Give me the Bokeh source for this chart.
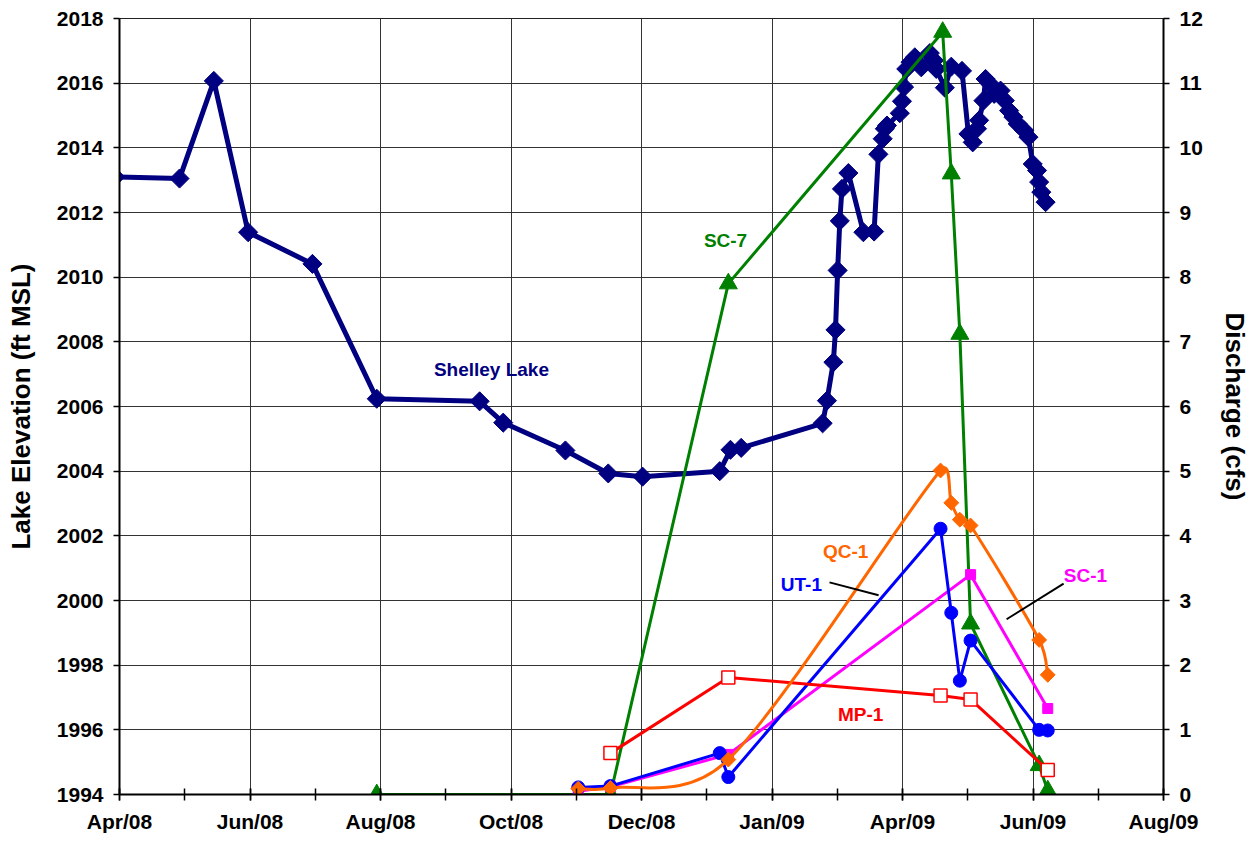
import math
import pandas as pd
from bokeh.plotting import figure
from bokeh.models import Range1d, LinearAxis, FixedTicker, Label, Grid
from bokeh.embed import file_html
from bokeh.resources import INLINE

# ---------------- data ----------------
lake_dates = ["2008-03-24", "2008-03-30", "2008-04-29", "2008-05-15", "2008-05-31", "2008-06-30",
              "2008-07-30", "2008-09-16", "2008-09-27", "2008-10-26", "2008-11-15", "2008-12-01",
              "2009-01-06", "2009-01-11", "2009-01-16", "2009-02-23", "2009-02-25", "2009-02-28",
              "2009-03-01", "2009-03-02", "2009-03-03", "2009-03-04", "2009-03-07", "2009-03-14",
              "2009-03-19", "2009-03-21", "2009-03-23", "2009-03-24", "2009-03-25", "2009-03-31",
              "2009-04-01", "2009-04-02", "2009-04-03", "2009-04-05", "2009-04-07", "2009-04-10",
              "2009-04-14", "2009-04-16", "2009-04-17", "2009-04-21", "2009-04-24", "2009-04-29",
              "2009-05-02", "2009-05-04", "2009-05-06", "2009-05-07", "2009-05-09", "2009-05-10",
              "2009-05-12", "2009-05-14", "2009-05-17", "2009-05-19", "2009-05-21", "2009-05-23",
              "2009-05-25", "2009-05-28", "2009-05-30", "2009-06-01", "2009-06-03", "2009-06-04",
              "2009-06-05", "2009-06-07"]
lake_elev = [2011.3, 2013.10, 2013.05, 2016.07, 2011.39, 2010.41,
             2006.24, 2006.16, 2005.50, 2004.64, 2003.93, 2003.83,
             2004.00, 2004.66, 2004.72, 2005.48, 2006.18, 2007.37,
             2008.37, 2010.21, 2011.74, 2012.73, 2013.22, 2011.39,
             2011.41, 2013.80, 2014.28, 2014.59, 2014.69, 2015.07,
             2015.44, 2015.88, 2016.44, 2016.65, 2016.80, 2016.49,
             2016.93, 2016.70, 2016.44, 2015.86, 2016.51, 2016.38,
             2014.43, 2014.17, 2014.59, 2014.85, 2015.46, 2016.13,
             2015.98, 2015.67, 2015.77, 2015.46, 2015.15, 2014.95,
             2014.74, 2014.54, 2014.33, 2013.50, 2013.30, 2012.94,
             2012.63, 2012.32]

sc7_dates = ["2008-07-30", "2008-11-01", "2008-11-16", "2009-01-10", "2009-04-20",
             "2009-04-24", "2009-04-28", "2009-05-03", "2009-06-04", "2009-06-08"]
sc7_cfs = [0.0, 0.0, 0.0, 7.90, 11.79, 9.60, 7.12, 2.64, 0.45, 0.06]

qc1_dates = ["2008-11-01", "2008-11-16", "2009-01-10", "2009-04-19", "2009-04-24",
             "2009-04-28", "2009-05-03", "2009-06-04", "2009-06-08"]
qc1_cfs = [0.09, 0.10, 0.54, 5.01, 4.51, 4.25, 4.16, 2.39, 1.85]

ut1_dates = ["2008-11-01", "2008-11-16", "2009-01-06", "2009-01-10", "2009-04-19",
             "2009-04-24", "2009-04-28", "2009-05-03", "2009-06-04", "2009-06-08"]
ut1_cfs = [0.11, 0.13, 0.64, 0.27, 4.11, 2.81, 1.76, 2.38, 1.00, 0.99]

sc1_dates = ["2008-11-01", "2008-11-16", "2009-01-10", "2009-05-03", "2009-06-08"]
sc1_cfs = [0.05, 0.12, 0.62, 3.40, 1.33]

mp1_dates = ["2008-11-16", "2009-01-10", "2009-04-19", "2009-05-03", "2009-06-08"]
mp1_cfs = [0.64, 1.81, 1.53, 1.47, 0.38]

x_tick_labels = ["Apr/08", "Jun/08", "Aug/08", "Oct/08", "Dec/08", "Jan/09", "Apr/09", "Jun/09", "Aug/09"]
x_start, x_end = "2008-04-01", "2009-08-01"
elev_ticks = list(range(1994, 2019, 2))
cfs_ticks = list(range(0, 13))

FONT = "Liberation Sans"
NAVY, GREEN, ORANGE, BLUE, MAGENTA, RED = "#000080", "#008000", "#FF6600", "#0000FF", "#FF00FF", "#FF0000"
FW, FH = 1044, 776


def to_ms(dates):
    return [int(v) // 10**6 for v in pd.to_datetime(dates).as_unit("ns").asi8]


def ms1(d):
    return int(pd.Timestamp(d).value) // 10**6


t0, t1 = ms1(x_start), ms1(x_end)
n_int = len(x_tick_labels) - 1
step = (t1 - t0) // n_int
major = [t0 + k * step for k in range(n_int + 1)]
minor = [t0 + k * step // 2 for k in range(2 * n_int + 1)]

p = figure(frame_width=FW, frame_height=FH, output_backend="svg", toolbar_location=None,
           x_axis_type=None, y_axis_type=None,
           x_range=Range1d(t0, t1), y_range=Range1d(1994, 2018),
           min_border_left=119, min_border_right=88, min_border_top=18, min_border_bottom=46)
p.extra_y_ranges = {"q": Range1d(0, 12)}
p.background_fill_color = "white"
p.border_fill_color = "white"
p.outline_line_color = "#222222"
p.outline_line_width = 1

xticker = FixedTicker(ticks=major, minor_ticks=minor)
xaxis = LinearAxis(ticker=xticker, major_label_overrides={t: l for t, l in zip(major, x_tick_labels)})
yaxis = LinearAxis(ticker=FixedTicker(ticks=elev_ticks), axis_label="Lake Elevation (ft MSL)")
raxis = LinearAxis(y_range_name="q", ticker=FixedTicker(ticks=cfs_ticks), axis_label="Discharge (cfs)")

for ax in (xaxis, yaxis, raxis):
    ax.axis_line_color = "black"
    ax.axis_line_width = 2
    ax.major_tick_line_color = "black"
    ax.major_tick_line_width = 1.5
    ax.minor_tick_line_color = "black"
    ax.minor_tick_line_width = 1.5
    ax.major_label_text_font = FONT
    ax.major_label_text_font_style = "bold"
    ax.major_label_text_font_size = "21px"
    ax.major_label_text_color = "black"
    ax.axis_label_text_font = FONT
    ax.axis_label_text_font_style = "bold"
    ax.axis_label_text_font_size = "26px"
    ax.axis_label_text_color = "black"
    ax.major_tick_in = 0
    ax.major_tick_out = 6
    ax.minor_tick_in = 0
    ax.minor_tick_out = 0

xaxis.major_tick_in = 6
xaxis.minor_tick_in = 6
xaxis.minor_tick_out = 6
xaxis.major_label_standoff = 9
yaxis.major_label_standoff = 10
yaxis.axis_label_standoff = 18
raxis.major_label_standoff = 10
raxis.axis_label_standoff = 14

p.add_layout(xaxis, "below")
p.add_layout(yaxis, "left")
p.add_layout(raxis, "right")

p.add_layout(Grid(dimension=0, ticker=xticker, grid_line_color="#333333", grid_line_width=1))
p.add_layout(Grid(dimension=1, ticker=FixedTicker(ticks=elev_ticks), grid_line_color="#333333", grid_line_width=1))

# Shelley Lake
lx = to_ms(lake_dates)
p.line(lx, lake_elev, line_color=NAVY, line_width=5, line_join="round")
p.scatter(lx, lake_elev, marker="square", angle=math.pi / 4, size=13.5, fill_color=NAVY, line_color=NAVY)

# SC-7
gx = to_ms(sc7_dates)
p.line(gx, sc7_cfs, y_range_name="q", line_color=GREEN, line_width=3)
p.scatter(gx, sc7_cfs, y_range_name="q", marker="triangle", size=18, fill_color=GREEN, line_color=GREEN)

# SC-1
mx = to_ms(sc1_dates)
p.line(mx, sc1_cfs, y_range_name="q", line_color=MAGENTA, line_width=3)
p.scatter(mx, sc1_cfs, y_range_name="q", marker="square", size=10, fill_color=MAGENTA, line_color=MAGENTA)

# UT-1
bx = to_ms(ut1_dates)
p.line(bx, ut1_cfs, y_range_name="q", line_color=BLUE, line_width=3)
p.scatter(bx, ut1_cfs, y_range_name="q", marker="circle", size=13, fill_color=BLUE, line_color=BLUE)

# MP-1
rx = to_ms(mp1_dates)
p.line(rx, mp1_cfs, y_range_name="q", line_color=RED, line_width=3)
p.scatter(rx, mp1_cfs, y_range_name="q", marker="square", size=13, fill_color="white", line_color=RED, line_width=1.5)

# QC-1: smoothed line (spreadsheet-style bezier; Catmull-Rom tangents capped by segment length)
ox = to_ms(qc1_dates)
kx = FW / (t1 - t0)          # screen px per ms
ky = FH / 12.0               # screen px per cfs
n = len(ox)
seg = {k: [] for k in ("x0", "y0", "x1", "y1", "cx0", "cy0", "cx1", "cy1")}


def vec(i_from, i_to):
    return (ox[i_to] - ox[i_from]) * kx, (qc1_cfs[i_to] - qc1_cfs[i_from]) * ky


def ctrl(i_from, i_to, cur_len):
    vx, vy = vec(i_from, i_to)
    L = math.hypot(vx, vy) or 1.0
    dist = min(L / 6.0, 0.5 * cur_len)
    return vx / L * dist, vy / L * dist


for i in range(n - 1):
    a = max(i - 1, 0)
    d = min(i + 2, n - 1)
    sx, sy = vec(i, i + 1)
    cur = math.hypot(sx, sy)
    c1 = ctrl(a, i + 1, cur)
    c2 = ctrl(i, d, cur)
    seg["x0"].append(ox[i]); seg["y0"].append(qc1_cfs[i])
    seg["x1"].append(ox[i + 1]); seg["y1"].append(qc1_cfs[i + 1])
    seg["cx0"].append(ox[i] + c1[0] / kx)
    seg["cy0"].append(qc1_cfs[i] + c1[1] / ky)
    seg["cx1"].append(ox[i + 1] - c2[0] / kx)
    seg["cy1"].append(qc1_cfs[i + 1] - c2[1] / ky)
p.bezier(y_range_name="q", line_color=ORANGE, line_width=3, **seg)
p.scatter(ox, qc1_cfs, y_range_name="q", marker="square", angle=math.pi / 4, size=10.5,
          fill_color=ORANGE, line_color=ORANGE)

# annotations
d0 = pd.Timestamp(x_start)


def dx(days):
    return ms1(d0 + pd.Timedelta(days=days))


def lab(days, yv, text, color, rng="default"):
    p.add_layout(Label(x=dx(days), y=yv, y_range_name=rng, text=text, text_color=color,
                       text_font=FONT, text_font_style="bold", text_font_size="19px",
                       text_align="center", text_baseline="middle"))


lab(173.5, 2007.14, "Shelley Lake", NAVY)
lab(282.7, 8.57, "SC-7", GREEN, "q")
lab(338.7, 3.76, "QC-1", ORANGE, "q")
lab(318.1, 3.25, "UT-1", BLUE, "q")
lab(450.6, 3.39, "SC-1", MAGENTA, "q")
lab(345.7, 1.24, "MP-1", RED, "q")

p.line([dx(331.2), dx(354.1)], [3.28, 3.08], y_range_name="q", line_color="black", line_width=2)
p.line([dx(440.4), dx(413.8)], [3.26, 2.71], y_range_name="q", line_color="black", line_width=2)

open("out.html", "w").write(file_html(p, INLINE))
